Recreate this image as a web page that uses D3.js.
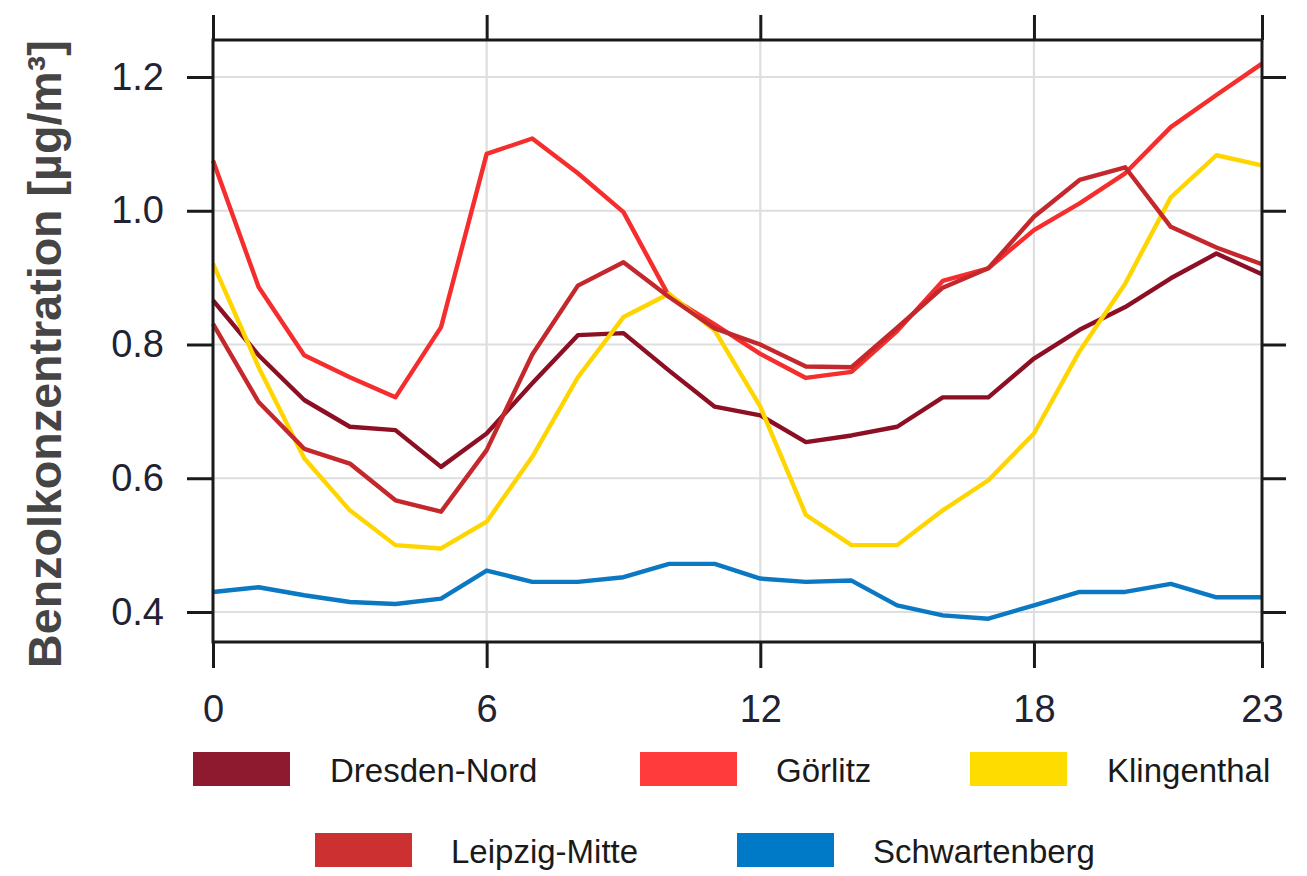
<!DOCTYPE html>
<html><head><meta charset="utf-8">
<script src="https://cdn.jsdelivr.net/npm/d3@7"></script>
<style>body{margin:0;background:#fff}svg{display:block}</style>
</head><body>
<svg id="chart" width="1307" height="876"></svg>
<script>
const hours = [0,1,2,3,4,5,6,7,8,9,10,11,12,13,14,15,16,17,18,19,20,21,22,23];
const dresdenNord   = [0.866,0.784,0.717,0.677,0.672,0.617,0.667,0.742,0.814,0.817,0.761,0.707,0.694,0.654,0.664,0.677,0.721,0.721,0.779,0.822,0.856,0.899,0.936,0.905];
const goerlitz      = [1.075,0.886,0.784,0.751,0.721,0.826,1.085,1.108,1.056,0.998,0.872,0.830,0.786,0.750,0.759,0.820,0.895,0.914,0.971,1.011,1.056,1.125,1.173,1.220];
const klingenthal   = [0.921,0.766,0.630,0.552,0.500,0.495,0.535,0.632,0.751,0.841,0.876,0.821,0.707,0.545,0.500,0.500,0.552,0.597,0.667,0.790,0.891,1.020,1.083,1.068];
const leipzigMitte  = [0.831,0.714,0.644,0.622,0.567,0.550,0.642,0.785,0.888,0.923,0.871,0.824,0.800,0.767,0.766,0.825,0.885,0.914,0.991,1.046,1.065,0.976,0.945,0.920];
const schwartenberg = [0.430,0.437,0.425,0.415,0.412,0.420,0.462,0.445,0.445,0.452,0.472,0.472,0.450,0.445,0.447,0.410,0.395,0.390,0.410,0.430,0.430,0.442,0.422,0.422];
const seriesNames = ["Dresden-Nord","Görlitz","Klingenthal","Leipzig-Mitte","Schwartenberg"];
const xTicks = [0,6,12,18,23];
const yTicks = [0.4,0.6,0.8,1.0,1.2];
const yTitle = "Benzolkonzentration [µg/m³]";

const seriesValues = [dresdenNord, goerlitz, klingenthal, leipzigMitte, schwartenberg];
const lineColors = ["#8c0f24","#f52d2d","#ffd500","#c4282c","#0a78c2"];
const swatchColors = ["#8e1a2f","#ff3b3b","#ffdc00","#cc3030","#007ac6"];

const svg = d3.select("#chart");
svg.append("rect").attr("width",1307).attr("height",876).attr("fill","#fff");

const L = 213, R = 1262, T = 40, B = 642;
const x = d3.scaleLinear().domain([0,23]).range([L,R]);
const y = d3.scaleLinear().domain([0.4,1.2]).range([612,77]);

const font = "'Liberation Sans', Arial, sans-serif";

// grid
const grid = svg.append("g");
grid.selectAll("line.h").data(yTicks).join("line")
  .attr("x1",L).attr("x2",R).attr("y1",d=>y(d)).attr("y2",d=>y(d))
  .attr("stroke","#dedede").attr("stroke-width",2.2);
grid.selectAll("line.v").data(xTicks.filter(d=>d>0&&d<23)).join("line")
  .attr("x1",d=>x(d)).attr("x2",d=>x(d)).attr("y1",T).attr("y2",B)
  .attr("stroke","#dedede").attr("stroke-width",2.2);

// lines
const line = d3.line().x((d,i)=>x(hours[i])).y(d=>y(d));
svg.append("g").selectAll("path").data(seriesValues).join("path")
  .attr("d",d=>line(d)).attr("fill","none")
  .attr("stroke",(d,i)=>lineColors[i]).attr("stroke-width",4.4)
  .attr("stroke-linejoin","round");

// frame
svg.append("rect").attr("x",L).attr("y",T).attr("width",R-L).attr("height",B-T)
  .attr("fill","none").attr("stroke","#1a1a1a").attr("stroke-width",3);

function styleAxis(g){
  g.select(".domain").remove();
  g.selectAll(".tick line").attr("stroke","#1a1a1a").attr("stroke-width",3);
  g.selectAll("text").attr("font-family",font).attr("fill","#222233");
}

// left axis
svg.append("g").attr("transform",`translate(${L},0)`)
  .call(d3.axisLeft(y).tickValues(yTicks).tickSize(26).tickPadding(23).tickFormat(d3.format(".1f")))
  .call(styleAxis)
  .call(g=>g.selectAll("text").attr("font-size",38));
// right axis
svg.append("g").attr("transform",`translate(${R},0)`)
  .call(d3.axisRight(y).tickValues(yTicks).tickSize(24).tickFormat(""))
  .call(styleAxis);
// top axis
svg.append("g").attr("transform",`translate(0,${T})`)
  .call(d3.axisTop(x).tickValues(xTicks).tickSize(25).tickFormat(""))
  .call(styleAxis);
// bottom axis
svg.append("g").attr("transform",`translate(0,${B})`)
  .call(d3.axisBottom(x).tickValues(xTicks).tickSize(26).tickPadding(27).tickFormat(d3.format("d")))
  .call(styleAxis)
  .call(g=>g.selectAll("text").attr("font-size",38));

// y title
const yt = svg.append("text")
  .attr("transform",`translate(61,${(T+668)/2}) rotate(-90)`)
  .attr("text-anchor","middle")
  .attr("font-family",font).attr("font-weight","bold").attr("font-size",32)
  .attr("fill","#454545").text(yTitle);
const len = yt.node().getComputedTextLength();
if (len>0) yt.attr("font-size", 32*628/len);

// legend
const legendPos = [
  {sx:193, tx:330, cy:769},
  {sx:640, tx:776, cy:769},
  {sx:970, tx:1107, cy:769},
  {sx:315, tx:451, cy:850},
  {sx:737, tx:873, cy:850}
];
const lg = svg.append("g");
seriesNames.forEach((name,i)=>{
  const p = legendPos[i];
  lg.append("rect").attr("x",p.sx).attr("y",p.cy-17).attr("width",97).attr("height",34)
    .attr("fill",swatchColors[i]);
  lg.append("text").attr("x",p.tx).attr("y",p.cy+13)
    .attr("font-family",font).attr("font-size",33).attr("fill","#1a1a1a").text(name);
});
</script>
</body></html>
